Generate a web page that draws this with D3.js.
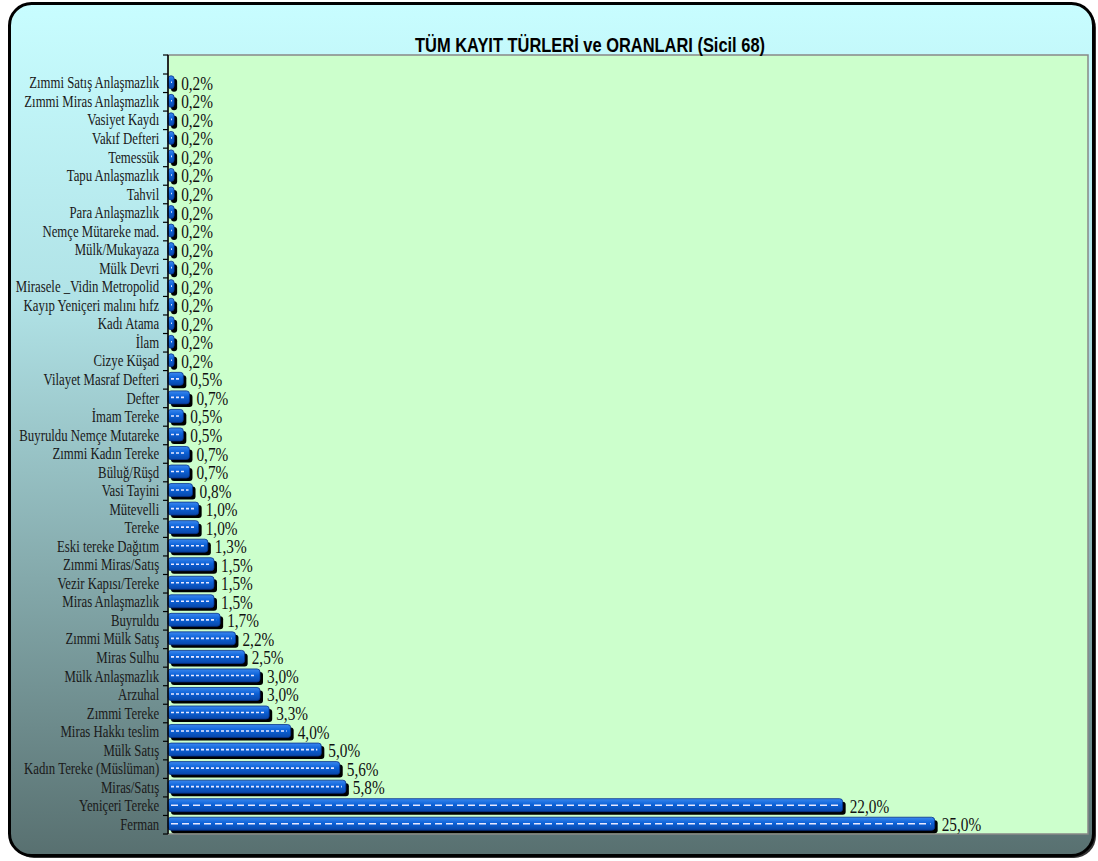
<!DOCTYPE html>
<html>
<head>
<meta charset="utf-8">
<script src="https://cdn.jsdelivr.net/npm/d3@7"></script>
<style>
  body { margin: 0; background: #fff; }
  svg { display: block; }
</style>
</head>
<body>
<div class="chart"></div>
<script>
const categories = [
    'Zımmi Satış Anlaşmazlık', 'Zımmi Miras Anlaşmazlık', 'Vasiyet Kaydı', 'Vakıf Defteri',
    'Temessük', 'Tapu Anlaşmazlık', 'Tahvil', 'Para Anlaşmazlık', 'Nemçe Mütareke mad.',
    'Mülk/Mukayaza', 'Mülk Devri', 'Mirasele _Vidin Metropolid', 'Kayıp Yeniçeri malını hıfz',
    'Kadı Atama', 'İlam', 'Cizye Küşad', 'Vilayet Masraf Defteri', 'Defter', 'İmam Tereke',
    'Buyruldu Nemçe Mutareke', 'Zımmi Kadın Tereke', 'Büluğ/Rüşd', 'Vasi Tayini', 'Mütevelli',
    'Tereke', 'Eski tereke Dağıtım', 'Zımmi Miras/Satış', 'Vezir Kapısı/Tereke',
    'Miras Anlaşmazlık', 'Buyruldu', 'Zımmi Mülk Satış', 'Miras Sulhu', 'Mülk Anlaşmazlık',
    'Arzuhal', 'Zımmi Tereke', 'Miras Hakkı teslim', 'Mülk Satış', 'Kadın Tereke (Müslüman)',
    'Miras/Satış', 'Yeniçeri Tereke', 'Ferman'
];
const values = [
    0.2, 0.2, 0.2, 0.2, 0.2, 0.2, 0.2, 0.2, 0.2, 0.2, 0.2, 0.2, 0.2, 0.2, 0.2, 0.2,
    0.5, 0.7, 0.5, 0.5, 0.7, 0.7, 0.8, 1.0, 1.0, 1.3, 1.5, 1.5, 1.5, 1.7, 2.2, 2.5,
    3.0, 3.0, 3.3, 4.0, 5.0, 5.6, 5.8, 22.0, 25.0
];
const xDomain = [0, 30];
const title = 'TÜM KAYIT TÜRLERİ ve ORANLARI (Sicil 68)';

const width = 1098,
    height = 861,
    plot = { left: 168, top: 55, right: 1088, bottom: 834 };

const data = categories.map((c, i) => ({ name: c, value: values[i] }));

const svg = d3.select('.chart')
    .append('svg')
    .attr('width', width)
    .attr('height', height);

const defs = svg.append('defs');

const bg = defs.append('linearGradient')
    .attr('id', 'bg').attr('x1', 0).attr('y1', 0).attr('x2', 0).attr('y2', 1);
bg.append('stop').attr('offset', '0%').attr('stop-color', '#c8fdff');
bg.append('stop').attr('offset', '35%').attr('stop-color', '#b0e2e6');
bg.append('stop').attr('offset', '100%').attr('stop-color', '#587070');

const barGrad = defs.append('linearGradient')
    .attr('id', 'bar').attr('x1', 0).attr('y1', 0).attr('x2', 0).attr('y2', 1);
barGrad.append('stop').attr('offset', '0%').attr('stop-color', '#3a88f0');
barGrad.append('stop').attr('offset', '45%').attr('stop-color', '#0c62d8');
barGrad.append('stop').attr('offset', '100%').attr('stop-color', '#0846a8');

// outer frame
svg.append('rect')
    .attr('x', 12).attr('y', 6)
    .attr('width', 1084).attr('height', 852)
    .attr('rx', 22)
    .attr('fill', '#333');
svg.append('rect')
    .attr('x', 9.5).attr('y', 3.5)
    .attr('width', 1084).attr('height', 852)
    .attr('rx', 22)
    .attr('fill', 'url(#bg)')
    .attr('stroke', '#000')
    .attr('stroke-width', 3);

// plot area
svg.append('rect')
    .attr('x', plot.left).attr('y', plot.top)
    .attr('width', plot.right - plot.left)
    .attr('height', plot.bottom - plot.top)
    .attr('fill', '#ccffcc')
    .attr('stroke', '#888')
    .attr('stroke-width', 1.5);

svg.append('text')
    .attr('x', 590).attr('y', 52)
    .attr('text-anchor', 'middle')
    .attr('textLength', 350)
    .attr('lengthAdjust', 'spacingAndGlyphs')
    .style('font-family', '"Liberation Sans", Arial, sans-serif')
    .style('font-weight', 'bold')
    .style('font-size', '21px')
    .attr('fill', '#000')
    .text(title);

const x = d3.scaleLinear().domain(xDomain).range([plot.left, plot.right]);
const y = d3.scaleBand().domain(categories).range([74, plot.bottom]);

const barH = 13,
    shadow = 3;

const bars = svg.append('g')
    .selectAll('g')
    .data(data)
    .join('g')
    .attr('transform', d => `translate(0,${y(d.name) + (y.bandwidth() - barH) / 2 - 1})`);

bars.append('rect')
    .attr('x', plot.left + shadow)
    .attr('y', shadow)
    .attr('width', d => x(d.value) - x(0))
    .attr('height', barH)
    .attr('rx', 3)
    .attr('fill', '#000');

bars.append('rect')
    .attr('x', plot.left)
    .attr('y', 0)
    .attr('width', d => x(d.value) - x(0))
    .attr('height', barH)
    .attr('rx', 3)
    .attr('fill', 'url(#bar)')
    .attr('stroke', '#06308a')
    .attr('stroke-width', 0.8);

bars.append('line')
    .attr('x1', plot.left + 3)
    .attr('x2', d => Math.max(plot.left + 4, x(d.value) - 4))
    .attr('y1', barH / 2)
    .attr('y2', barH / 2)
    .attr('stroke', '#e8e8ff')
    .attr('stroke-width', 1.6)
    .attr('stroke-dasharray', d => d.value > 10 ? '7,4' : '3,2');

bars.append('text')
    .attr('transform', d => `translate(${x(d.value) + 7},${barH + 1}) scale(0.85,1)`)
    .style('font-family', '"Liberation Serif", "Times New Roman", serif')
    .style('font-size', '18px')
    .attr('fill', '#111')
    .text(d => d3.format('.1f')(d.value).replace('.', ',') + '%');

// y axis
const axis = svg.append('g')
    .attr('transform', `translate(${plot.left},0)`)
    .call(d3.axisLeft(y).tickSize(0).tickPadding(11));
axis.select('.domain').remove();
axis.append('line')
    .attr('y1', plot.top).attr('y2', plot.bottom)
    .attr('stroke', '#000').attr('stroke-width', 1.5);
axis.selectAll('.tick text')
    .attr('transform', 'scale(0.8,1)')
    .style('font-family', '"Liberation Serif", "Times New Roman", serif')
    .style('font-size', '16px')
    .attr('fill', '#1a1a1a');

const bounds = categories.map(c => y(c)).concat([plot.bottom, plot.top]);
axis.selectAll('.bound')
    .data(bounds)
    .join('line')
    .attr('class', 'bound')
    .attr('x1', -5).attr('x2', 0)
    .attr('y1', d => d).attr('y2', d => d)
    .attr('stroke', '#000')
    .attr('stroke-width', 1.2);
</script>
</body>
</html>
